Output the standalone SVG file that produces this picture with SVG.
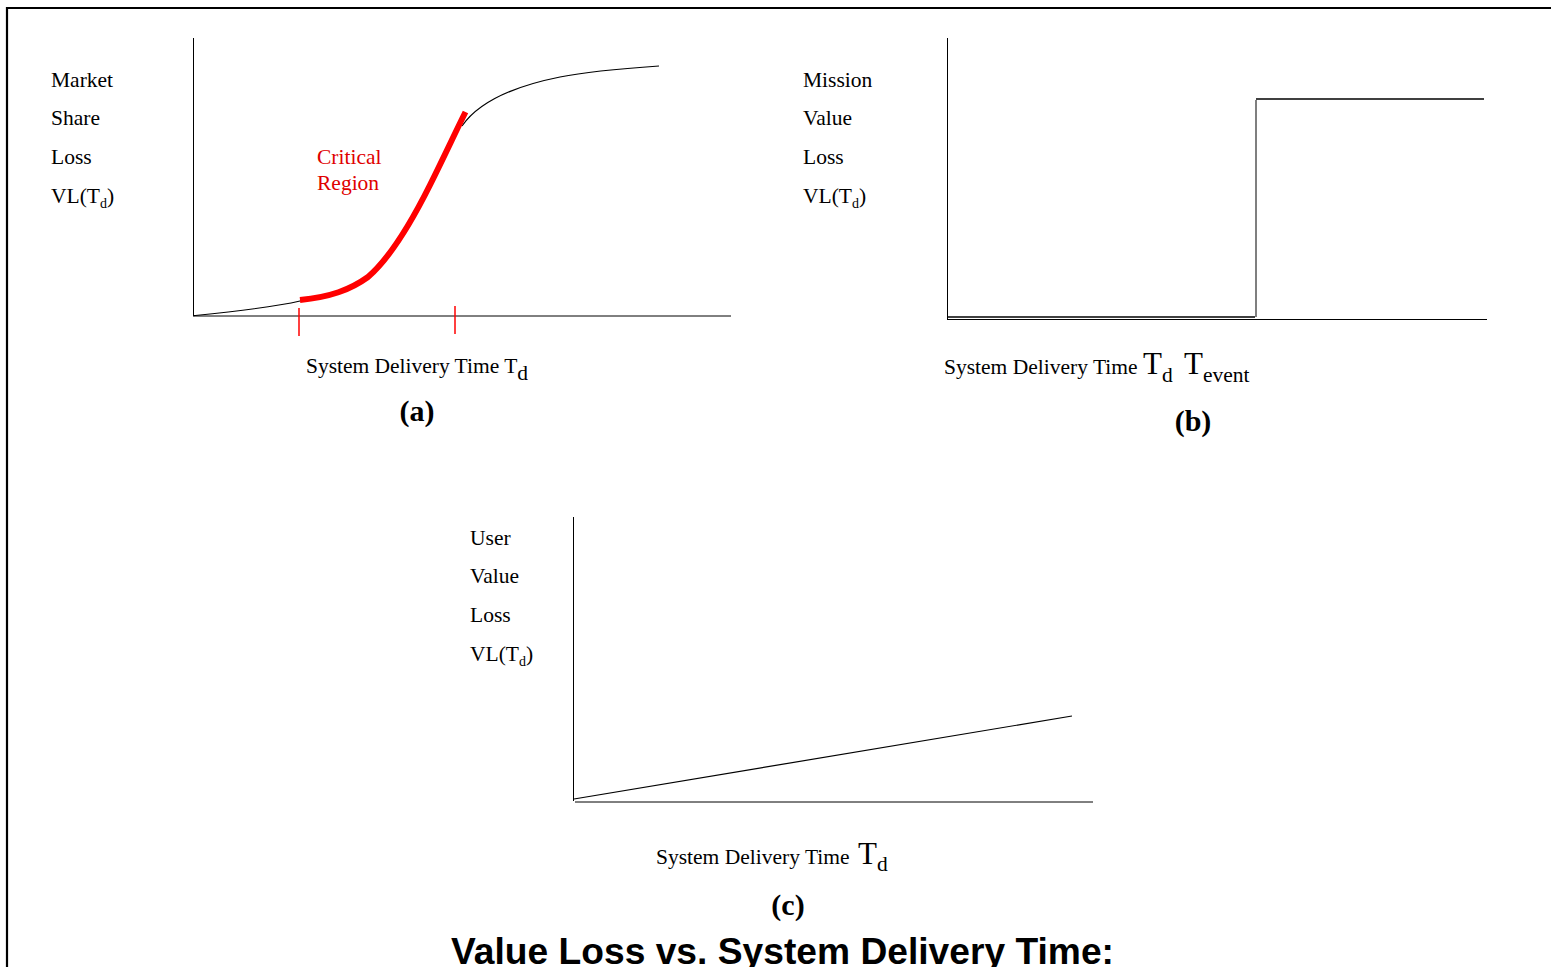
<svg xmlns="http://www.w3.org/2000/svg" width="1551" height="967" viewBox="0 0 1551 967">
<style>
.t{font-family:"Liberation Serif","Times New Roman",serif;font-size:21.5px;fill:#000}
.r{fill:#e00000}
.lab{font-family:"Liberation Serif","Times New Roman",serif;font-size:30px;font-weight:bold;fill:#000;text-anchor:middle}
.ax{stroke:#000;stroke-width:1;fill:none}
.cv{stroke:#000;stroke-width:1.2;fill:none}
.big{font-size:31px}
.sub{font-size:14px}
.sub2{font-size:21.5px}
</style>
<rect width="1551" height="967" fill="#fff"/>
<g id="border">
<path d="M7,967 V8 H1551" stroke="#000" stroke-width="2.2" fill="none"/>
</g>
<g id="panel-a">
<line class="ax" x1="193.5" y1="38" x2="193.5" y2="316"/>
<line class="ax" x1="193" y1="316" x2="731" y2="316"/>
<text class="t" x="51" y="87">Market</text>
<text class="t" x="51" y="125">Share</text>
<text class="t" x="51" y="164">Loss</text>
<text class="t" x="51" y="203">VL(T<tspan class="sub" dy="5">d</tspan><tspan dy="-5">)</tspan></text>
<path class="cv" d="M193.6,315.7 C230,312 270,308 300,301 C325,296 350,290 372,272 M462,126 C480,100 520,85 560,77 C590,71 630,68 659,66"/>
<path d="M300,300 C330,297 350,290 368,277 C390,258 410,225 430,185 C445,155 455,133 465.5,112" stroke="#ff0000" stroke-width="6" fill="none"/>
<line x1="299" y1="308" x2="299" y2="336" stroke="#ff0000" stroke-width="1.5"/>
<line x1="455" y1="306" x2="455" y2="334" stroke="#ff0000" stroke-width="1.5"/>
<text class="t r" x="317" y="164">Critical</text>
<text class="t r" x="317" y="190">Region</text>
<text class="t" x="306" y="373" textLength="222">System Delivery Time T<tspan class="sub2" dy="7">d</tspan></text>
<text class="lab" x="417" y="421">(a)</text>
</g>
<g id="panel-b">
<line class="ax" x1="947.5" y1="38" x2="947.5" y2="319"/>
<line class="ax" x1="947" y1="319.5" x2="1487" y2="319.5"/>
<path d="M948,317 H1255" stroke="#000" stroke-width="1.5" fill="none"/>
<path d="M1256,317 V100" stroke="#555" stroke-width="1.5" fill="none"/>
<path d="M1256,99 H1484" stroke="#000" stroke-width="1.5" fill="none"/>
<text class="t" x="803" y="87">Mission</text>
<text class="t" x="803" y="125">Value</text>
<text class="t" x="803" y="164">Loss</text>
<text class="t" x="803" y="203">VL(T<tspan class="sub" dy="5">d</tspan><tspan dy="-5">)</tspan></text>
<text class="t" x="944" y="374">System Delivery Time <tspan class="big" x="1143">T</tspan><tspan class="sub2" dy="8">d</tspan><tspan dy="-8" class="big" x="1184">T</tspan><tspan class="sub2" dy="8">event</tspan></text>
<text class="lab" x="1193" y="431">(b)</text>
</g>
<g id="panel-c">
<line class="ax" x1="573.5" y1="517" x2="573.5" y2="801"/>
<line class="ax" x1="575" y1="802" x2="1093" y2="802"/>
<line class="cv" x1="574" y1="799" x2="1072" y2="716"/>
<text class="t" x="470" y="545">User</text>
<text class="t" x="470" y="583">Value</text>
<text class="t" x="470" y="622">Loss</text>
<text class="t" x="470" y="661">VL(T<tspan class="sub" dy="5">d</tspan><tspan dy="-5">)</tspan></text>
<text class="t" x="656" y="864">System Delivery Time <tspan class="big" x="858">T</tspan><tspan class="sub2" dy="7">d</tspan></text>
<text class="lab" x="788" y="915">(c)</text>
</g>
<g id="title">
<text x="451" y="964" font-family="'Liberation Sans',Arial,sans-serif" font-weight="bold" font-size="37" textLength="663" lengthAdjust="spacingAndGlyphs" fill="#000">Value Loss vs. System Delivery Time:</text>
</g>
</svg>
